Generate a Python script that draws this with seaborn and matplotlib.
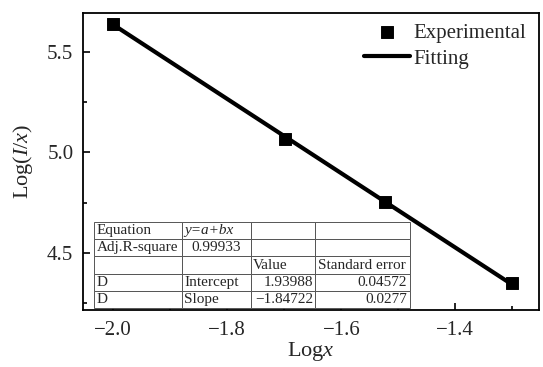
# Log(I/x) vs Logx with linear fit and fit parameter table
import numpy as np
import pandas as pd
import seaborn as sns
import matplotlib.pyplot as plt

sns.set_style('ticks')
plt.rcParams['font.family'] = ['Liberation Serif', 'DejaVu Serif']
plt.rcParams['mathtext.fontset'] = 'custom'
plt.rcParams['mathtext.rm'] = 'Liberation Serif'
plt.rcParams['mathtext.it'] = 'Liberation Serif:italic'

# experimental points
log_x = [-2.0, -1.699, -1.523, -1.301]
log_ix = [5.640, 5.066, 4.752, 4.349]

# fitted line end points (y = a + b x)
fit_x = [-2.0, -1.301]
fit_y = [5.634, 4.343]

# fit summary table
table_rows = [
    ['Equation', 'y=a+bx', '', ''],
    ['Adj.R-square', '0.99933', '', ''],
    ['', '', 'Value', 'Standard error'],
    ['D', 'Intercept', '1.93988', '0.04572'],
    ['D', 'Slope', '\u22121.84722', '0.0277'],
]

df_pts = pd.DataFrame({'x': log_x, 'y': log_ix})
df_fit = pd.DataFrame({'x': fit_x, 'y': fit_y})

fig, ax = plt.subplots(figsize=(5.43, 3.67), dpi=100)
fig.subplots_adjust(left=0.153, right=0.993, top=0.965, bottom=0.155)

sns.lineplot(x='x', y='y', data=df_fit, ax=ax, color='black', lw=3,
             label='Fitting', zorder=2)
sns.scatterplot(x='x', y='y', data=df_pts, ax=ax, marker='s', s=70,
                color='black', edgecolor='black', label='Experimental',
                zorder=3)

ax.set_xlim(-2.053, -1.253)
ax.set_ylim(4.215, 5.693)
ax.set_xticks([-2.0, -1.8, -1.6, -1.4])
ax.set_yticks([4.5, 5.0, 5.5])
ax.set_xticks([-1.9, -1.7, -1.5, -1.3], minor=True)
ax.set_yticks([4.25, 4.75, 5.25], minor=True)
ax.set_xticklabels(['\u22122.0', '\u22121.8', '\u22121.6', '\u22121.4'])
ax.tick_params(which='both', direction='in', labelsize=15, width=1.2,
               color='black')
ax.tick_params(axis='x', which='both', pad=8)
ax.tick_params(axis='y', which='both', pad=7)
ax.tick_params(which='major', length=5)
ax.tick_params(which='minor', length=3)
for sp in ax.spines.values():
    sp.set_linewidth(1.3)
    sp.set_color('black')

ax.set_xlabel('Log$x$', fontsize=16, labelpad=0)
ax.set_ylabel('Log($I$/$x$)', fontsize=16, labelpad=9)

handles, labels = ax.get_legend_handles_labels()
order = [labels.index('Experimental'), labels.index('Fitting')]
ax.legend([handles[i] for i in order], [labels[i] for i in order],
          loc='upper right', frameon=False, fontsize=15,
          handlelength=2.2, handletextpad=0.2, borderaxespad=0.1,
          labelspacing=0.3, bbox_to_anchor=(0.995, 1.0))

tb = ax.table(cellText=table_rows, cellLoc='left',
              colWidths=[88, 69, 64, 95],
              bbox=[(94 - 83) / 456, 2 / 297, 316 / 456, 86 / 297])
tb.auto_set_font_size(False)
tb.set_fontsize(11)
for (r, c), cell in tb.get_celld().items():
    cell.set_edgecolor('#555555')
    cell.set_linewidth(0.7)
    cell.set_facecolor('white')
    cell.PAD = 0.03
    txt = cell.get_text()
    if (r, c) == (0, 1):
        txt.set_fontstyle('italic')
    if r == 1 and c == 1:
        txt.set_horizontalalignment('center')
    if r >= 3 and c >= 2:
        txt.set_horizontalalignment('right')
        cell._loc = 'right'
tb.set_zorder(1)

fig.savefig('out.png', dpi=100)
